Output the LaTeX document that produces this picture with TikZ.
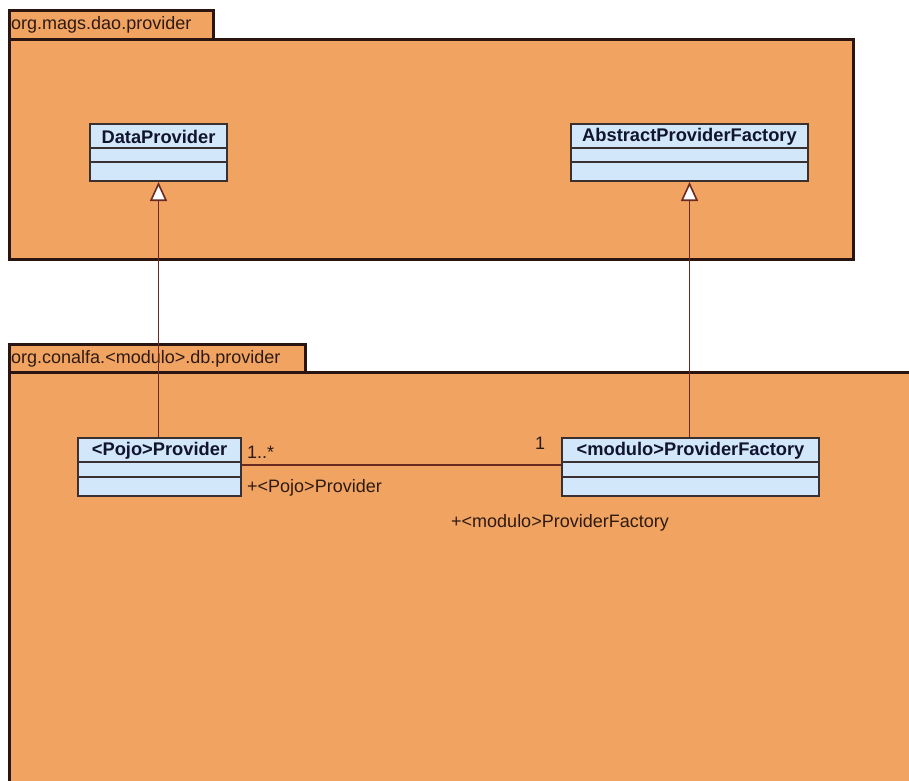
\documentclass[tikz,border=0pt]{standalone}
\usepackage{fontspec}
\setmainfont{Liberation Sans}
\usetikzlibrary{calc,arrows.meta}
\definecolor{pkgfill}{HTML}{F1A461}
\definecolor{pkgline}{HTML}{2A1510}
\definecolor{clsfill}{HTML}{D3E7FB}
\definecolor{clsline}{HTML}{3A3030}
\definecolor{relline}{HTML}{6A2A22}
\definecolor{inktext}{HTML}{2E1A12}
\definecolor{nametext}{HTML}{10142E}
\tikzset{
  pkgshape/.style={fill=pkgfill, draw=pkgline, line width=3pt},
  pkglabel/.style={anchor=west, inner sep=0pt, text=inktext, font=\fontsize{18}{20}\selectfont},
  classbox/.style={fill=clsfill, draw=clsline, line width=2pt, inner sep=0pt},
  classname/.style={inner sep=0pt, text=nametext, font=\fontsize{18.3}{20}\selectfont\bfseries},
  sep/.style={draw=clsline, line width=1.6pt},
  rel/.style={draw=relline, line width=1.6pt},
  realize/.style={draw=relline, line width=1.6pt, -{Triangle[open, fill=white, width=17pt, length=19pt]}},
  endlabel/.style={inner sep=0pt, text=inktext, font=\fontsize{18}{20}\selectfont},
}
\begin{document}
\begin{tikzpicture}[x=1pt, y=-1pt]
  \useasboundingbox (0,0) rectangle (909,780);
  \begin{scope}
    \clip (0,0) rectangle (909,780);

    % package org.mags.dao.provider
    \path[pkgshape] (9,10) rectangle (213,39);
    \path[pkgshape] (9,39) rectangle (853,259);
    \node[pkglabel] (pkgA) at (11,25) {org.mags.dao.provider};

    % package org.conalfa.<modulo>.db.provider (runs off the page)
    \path[pkgshape] (9,344) rectangle (305,372);
    \path[pkgshape] (9,372) rectangle (930,800);
    \node[pkglabel] (pkgB) at (11,359) {org.conalfa.<modulo>.db.provider};

    % classes
    \node[classbox, minimum width=137pt, minimum height=57pt] (dp) at (158.5,152.5) {};
    \node[classname] (dpn) at ($(dp.north)+(0,14)$) {DataProvider};
    \draw[sep] ($(dp.north west)+(1,25)$) -- ($(dp.north east)+(-1,25)$);
    \draw[sep] ($(dp.north west)+(1,39)$) -- ($(dp.north east)+(-1,39)$);

    \node[classbox, minimum width=237pt, minimum height=57pt] (apf) at (689.5,152.5) {};
    \node[classname] (apfn) at ($(apf.north)+(0,14)$) {AbstractProviderFactory};
    \draw[sep] ($(apf.north west)+(1,25)$) -- ($(apf.north east)+(-1,25)$);
    \draw[sep] ($(apf.north west)+(1,39)$) -- ($(apf.north east)+(-1,39)$);

    \node[classbox, minimum width=163pt, minimum height=58pt] (pp) at (159.5,467) {};
    \node[classname] (ppn) at ($(pp.north)+(0,14)$) {<Pojo>Provider};
    \draw[sep] ($(pp.north west)+(1,25)$) -- ($(pp.north east)+(-1,25)$);
    \draw[sep] ($(pp.north west)+(1,40)$) -- ($(pp.north east)+(-1,40)$);

    \node[classbox, minimum width=257pt, minimum height=58pt] (mpf) at (690.5,467) {};
    \node[classname] (mpfn) at ($(mpf.north)+(0,14)$) {<modulo>ProviderFactory};
    \draw[sep] ($(mpf.north west)+(1,25)$) -- ($(mpf.north east)+(-1,25)$);
    \draw[sep] ($(mpf.north west)+(1,40)$) -- ($(mpf.north east)+(-1,40)$);

    % realizations
    \draw[realize] (dp.south |- pp.north) -- (dp.south);
    \draw[realize] (apf.south |- mpf.north) -- (apf.south);

    % association
    \coordinate (assocL) at ($(pp.east)+(0,-2)$);
    \coordinate (assocR) at (assocL -| mpf.west);
    \draw[rel] (assocL) -- (assocR);
    \node[endlabel, anchor=west] (multL) at (247,452) {1..*};
    \node[endlabel, anchor=west] (roleL) at (247,488) {+<Pojo>Provider};
    \node[endlabel] (multR) at (540,443) {1};
    \node[endlabel, anchor=west] (roleR) at (451,523) {+<modulo>ProviderFactory};
  \end{scope}
\end{tikzpicture}
\end{document}
